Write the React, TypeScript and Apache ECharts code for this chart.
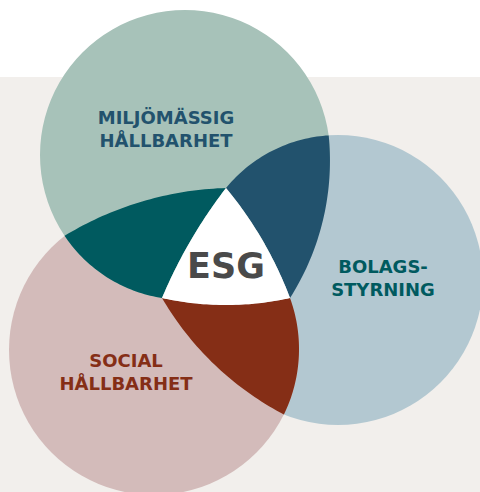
import React, { useEffect, useRef } from "react";
import * as echarts from "echarts";

// Three main circles (centre x, centre y, radius in the diagram's 480x492 units)
const circleNames = ["MILJÖMÄSSIG\nHÅLLBARHET", "BOLAGS-\nSTYRNING", "SOCIAL\nHÅLLBARHET"];
const circleX = [185, 338, 154];
const circleY = [155, 280, 350];
const circleR = [145, 145, 145];
const circleColors = ["#a7c2b9", "#b3c8d1", "#d3bbba"];
const drawOrder = [1, 2, 0];

// Labels
const labelX = [166, 383, 126];
const labelY = [129, 278, 372];
const labelColors = ["#22526d", "#005a5f", "#852e16"];

// Overlap regions, each a list of curved edges [x0, y0, xMid, yMid, x1, y1]
const overlapNames = ["Miljö+Social", "Miljö+Bolag", "Social+Bolag", "ESG"];
const overlapColors = ["#005a5f", "#22526d", "#852e16", "#ffffff"];
const overlapEdges = [
  [
    [64.6, 235.8, 142, 201.5, 226, 188],
    [226, 188, 187, 247, 162, 298],
    [162, 298, 107.5, 277.6, 64.6, 235.8],
  ],
  [
    [226, 188, 271.8, 151, 328.7, 135.4],
    [328.7, 135.4, 323, 220, 290, 298],
    [290, 298, 268, 250, 226, 188],
  ],
  [
    [162, 298, 227, 305, 290, 298],
    [290, 298, 298.8, 357, 283.9, 414.5],
    [283.9, 414.5, 217, 367, 162, 298],
  ],
  [
    [226, 188, 268, 250, 290, 298],
    [290, 298, 227, 305, 162, 298],
    [162, 298, 187, 247, 226, 188],
  ],
];
const centerLabel = "ESG";
const centerX = 226;
const centerY = 266;

function arcPoints(e: number[], n: number): number[][] {
  const [x0, y0, xm, ym, x1, y1] = e;
  const d = 2 * (x0 * (ym - y1) + xm * (y1 - y0) + x1 * (y0 - ym));
  if (Math.abs(d) < 1e-6) return [[x0, y0], [x1, y1]];
  const s0 = x0 * x0 + y0 * y0, sm = xm * xm + ym * ym, s1 = x1 * x1 + y1 * y1;
  const cx = (s0 * (ym - y1) + sm * (y1 - y0) + s1 * (y0 - ym)) / d;
  const cy = (s0 * (x1 - xm) + sm * (x0 - x1) + s1 * (xm - x0)) / d;
  const r = Math.hypot(x0 - cx, y0 - cy);
  const a0 = Math.atan2(y0 - cy, x0 - cx);
  const am = Math.atan2(ym - cy, xm - cx);
  const a1 = Math.atan2(y1 - cy, x1 - cx);
  const norm = (a: number) => { const t = 2 * Math.PI; return ((a % t) + t) % t; };
  const d1 = norm(a1 - a0), dm = norm(am - a0);
  const sweep = dm < d1 ? d1 : d1 - 2 * Math.PI;
  const pts: number[][] = [];
  for (let i = 0; i <= n; i++) {
    const a = a0 + (sweep * i) / n;
    pts.push([cx + r * Math.cos(a), cy + r * Math.sin(a)]);
  }
  return pts;
}

const FONT = "'DejaVu Sans', sans-serif";

export default function App() {
  const ref = useRef<HTMLDivElement>(null);
  useEffect(() => {
    if (!ref.current) return;
    const chart = echarts.init(ref.current, null, { renderer: "svg" });
    chart.setOption({
      animation: false,
      backgroundColor: "#ffffff",
      grid: { left: 0, right: 0, top: 0, bottom: 0 },
      xAxis: { type: "value", min: 0, max: 480, show: false },
      yAxis: { type: "value", min: 0, max: 492, inverse: true, show: false },
      graphic: [
        {
          type: "rect",
          z: -10,
          shape: { x: 0, y: 77, width: 480, height: 415 },
          style: { fill: "#f2efec" },
        },
      ],
      series: [
        {
          type: "custom",
          name: "circles",
          clip: false,
          z: 2,
          data: drawOrder.map((i) => [circleX[i], circleY[i], circleR[i], i]),
          renderItem: (params: any, api: any) => {
            const i = api.value(3);
            const c = api.coord([api.value(0), api.value(1)]);
            const r = api.size([api.value(2), 0])[0];
            return {
              type: "circle",
              shape: { cx: c[0], cy: c[1], r },
              style: { fill: circleColors[i] },
            };
          },
        },
        {
          type: "custom",
          name: "overlaps",
          clip: false,
          z: 3,
          data: overlapNames.map((_, i) => [i]),
          renderItem: (params: any, api: any) => {
            const i = params.dataIndex;
            const pts: number[][] = [];
            overlapEdges[i].forEach((e) => {
              const p = arcPoints(e, 40);
              p.slice(0, -1).forEach((q) => pts.push(api.coord(q)));
            });
            return {
              type: "polygon",
              shape: { points: pts },
              style: { fill: overlapColors[i] },
            };
          },
        },
        {
          type: "custom",
          name: "labels",
          clip: false,
          z: 4,
          data: circleNames.map((_, i) => [labelX[i], labelY[i], i]),
          renderItem: (params: any, api: any) => {
            const i = api.value(2);
            const c = api.coord([api.value(0), api.value(1)]);
            return {
              type: "text",
              x: c[0],
              y: c[1],
              style: {
                text: circleNames[i],
                fill: labelColors[i],
                fontFamily: FONT,
                fontWeight: "bold",
                fontSize: 18,
                lineHeight: 23,
                align: "center",
                verticalAlign: "middle",
              },
            };
          },
        },
        {
          type: "custom",
          name: "center",
          clip: false,
          z: 5,
          data: [[centerX, centerY]],
          renderItem: (params: any, api: any) => {
            const c = api.coord([api.value(0), api.value(1)]);
            return {
              type: "text",
              x: c[0],
              y: c[1],
              style: {
                text: centerLabel,
                fill: "#4a4a4a",
                fontFamily: FONT,
                fontWeight: "bold",
                fontSize: 35,
                align: "center",
                verticalAlign: "middle",
              },
            };
          },
        },
      ],
    });
    return () => chart.dispose();
  }, []);
  return (
    <div
      ref={ref}
      style={{ position: "absolute", left: 0, top: 0, width: 480, height: 492 }}
    />
  );
}
